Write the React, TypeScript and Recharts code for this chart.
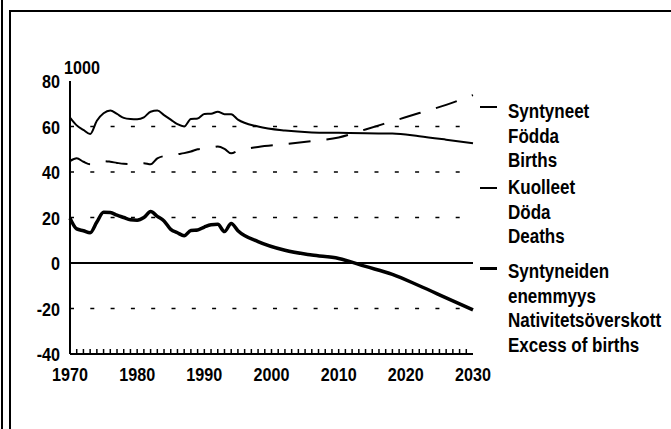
import { Line, LineChart, ReferenceLine, XAxis, YAxis } from "recharts";

const FONT = '"Liberation Sans", Arial, sans-serif';
const SQUEEZE = 0.85;

const YEARS = [
  1970, 1971, 1972, 1973, 1974, 1975, 1976, 1977, 1978, 1979,
  1980, 1981, 1982, 1983, 1984, 1985, 1986, 1987, 1988, 1989,
  1990, 1991, 1992, 1993, 1994, 1995, 1998, 2002, 2006, 2010,
  2014, 2018, 2022, 2026, 2030,
];

// thousands
const BIRTHS = [
  63.9, 60.5, 58.5, 56.7, 62.5, 65.8, 67.0, 65.5, 63.8, 63.3,
  63.2, 64.0, 66.5, 67.0, 65.0, 63.0, 61.0, 60.0, 63.3, 63.5,
  65.5, 65.6, 66.5, 65.4, 65.4, 63.0, 60.0, 58.2, 57.4, 57.2,
  57.0, 56.9, 55.7, 54.2, 52.6,
];

const DEATHS = [
  44.8, 46.0, 44.5, 43.4, 44.0, 44.8, 44.5, 44.0, 43.6, 43.5,
  43.8, 43.9, 43.4, 46.0, 47.0, 47.3, 47.8, 48.3, 49.0, 50.0,
  50.3, 50.6, 51.2, 50.2, 48.2, 49.3, 51.0, 52.2, 53.6, 55.2,
  58.7, 62.3, 65.9, 69.5, 73.8,
];

const EXCESS = [
  19.7, 15.0, 14.2, 13.3, 18.0, 22.3, 22.2, 21.0, 20.0, 19.0,
  18.8, 20.0, 22.6, 20.5, 18.5, 14.8, 13.3, 12.0, 14.3, 14.5,
  15.8, 16.8, 17.0, 13.8, 17.4, 14.2, 9.4, 5.6, 3.5, 2.0,
  -1.5, -5.0, -10.0, -15.3, -20.6,
];

const Y_TICKS = [-40, -20, 0, 20, 40, 60, 80];
const GRID_LEVELS = [-20, 20, 40, 60];
const X_LABELS = [1970, 1980, 1990, 2000, 2010, 2020, 2030];
const X_MINOR = Array.from({ length: 61 }, (_, i) => 1970 + i);

const LEGEND = [
  { top: 99, mark: 107, width: 2, lines: ["Syntyneet", "Födda", "Births"] },
  { top: 175, mark: 188, width: 2, lines: ["Kuolleet", "Döda", "Deaths"] },
  {
    top: 259,
    mark: 268,
    width: 3,
    lines: ["Syntyneiden", "enemmyys", "Nativitetsöverskott", "Excess of births"],
  },
];

const data = YEARS.map((year, i) => ({
  year,
  births: BIRTHS[i],
  deaths: DEATHS[i],
  excess: EXCESS[i],
}));

function NarrowText({ x, y, anchor, children }: any) {
  return (
    <text
      transform={`translate(${x},${y}) scale(${SQUEEZE},1)`}
      textAnchor={anchor}
      fontFamily={FONT}
      fontWeight="bold"
      fontSize={19}
      fill="#000"
    >
      {children}
    </text>
  );
}

function YearTick(props: any) {
  const { x, y, payload } = props;
  const year = payload.value;
  const edge = year === 1970 || year === 2030;
  return (
    <g>
      {!edge && <line x1={x} x2={x} y1={y} y2={y - 5} stroke="#000" strokeWidth={1.5} />}
      {X_LABELS.includes(year) && (
        <NarrowText x={x} y={y + 27} anchor="middle">
          {year}
        </NarrowText>
      )}
    </g>
  );
}

function ValueTick(props: any) {
  const { x, y, payload } = props;
  return (
    <NarrowText x={x} y={y + 7} anchor="end">
      {payload.value}
    </NarrowText>
  );
}

const narrowHtml = {
  transform: `scaleX(${SQUEEZE})`,
  transformOrigin: "0 0",
  fontWeight: "bold" as const,
  whiteSpace: "nowrap" as const,
};

const frameLine = { stroke: "#000", strokeWidth: 2 };

export default function App() {
  return (
    <div
      style={{
        position: "absolute",
        left: 0,
        top: 0,
        width: 671,
        height: 429,
        overflow: "hidden",
        background: "#fff",
        fontFamily: FONT,
      }}
    >
      <div style={{ position: "absolute", left: 1, top: 0, width: 2, height: 429, background: "#000" }} />
      <div
        style={{
          position: "absolute",
          left: 9,
          top: 10,
          width: 700,
          height: 460,
          border: "2px solid #000",
        }}
      />

      <div style={{ position: "absolute", left: 0, top: 0 }}>
        <LineChart
          width={671}
          height={429}
          data={data}
          margin={{ top: 81, right: 198, bottom: 35, left: 10 }}
        >
          <XAxis
            dataKey="year"
            type="number"
            domain={[1970, 2030]}
            ticks={X_MINOR}
            interval={0}
            height={40}
            tickSize={0}
            tickMargin={0}
            tickLine={false}
            axisLine={frameLine}
            tick={<YearTick />}
          />
          <XAxis
            xAxisId="top"
            orientation="top"
            dataKey="year"
            type="number"
            domain={[1970, 2030]}
            height={0}
            tick={false}
            tickLine={false}
            axisLine={frameLine}
          />
          <YAxis
            type="number"
            domain={[-40, 80]}
            ticks={Y_TICKS}
            interval={0}
            width={60}
            tickSize={0}
            tickMargin={10}
            tickLine={false}
            axisLine={frameLine}
            tick={<ValueTick />}
          />
          <YAxis
            yAxisId="right"
            orientation="right"
            type="number"
            domain={[-40, 80]}
            width={0}
            tick={false}
            tickLine={false}
            axisLine={frameLine}
          />
          {GRID_LEVELS.map((v) => (
            <ReferenceLine key={v} y={v} stroke="#000" strokeWidth={1.5} strokeDasharray="4 16.3" />
          ))}
          <ReferenceLine y={0} stroke="#000" strokeWidth={2} />
          <Line
            type="monotone"
            dataKey="births"
            stroke="#000"
            strokeWidth={2}
            dot={false}
            isAnimationActive={false}
          />
          <Line
            type="monotone"
            dataKey="deaths"
            stroke="#000"
            strokeWidth={2}
            strokeDasharray="22 16"
            dot={false}
            isAnimationActive={false}
          />
          <Line
            type="monotone"
            dataKey="excess"
            stroke="#000"
            strokeWidth={3.5}
            dot={false}
            isAnimationActive={false}
          />
        </LineChart>
      </div>

      <div style={{ position: "absolute", left: 64, top: 57, fontSize: 19, lineHeight: "22px", ...narrowHtml }}>
        1000
      </div>

      {LEGEND.map((g) => (
        <div key={g.lines[0]}>
          <div
            style={{
              position: "absolute",
              left: 480,
              top: g.mark - g.width / 2,
              width: 17,
              height: g.width,
              background: "#000",
            }}
          />
          <div
            style={{
              position: "absolute",
              left: 508,
              top: g.top,
              fontSize: 20,
              lineHeight: "24.5px",
              ...narrowHtml,
            }}
          >
            {g.lines.map((t) => (
              <div key={t}>{t}</div>
            ))}
          </div>
        </div>
      ))}
    </div>
  );
}
